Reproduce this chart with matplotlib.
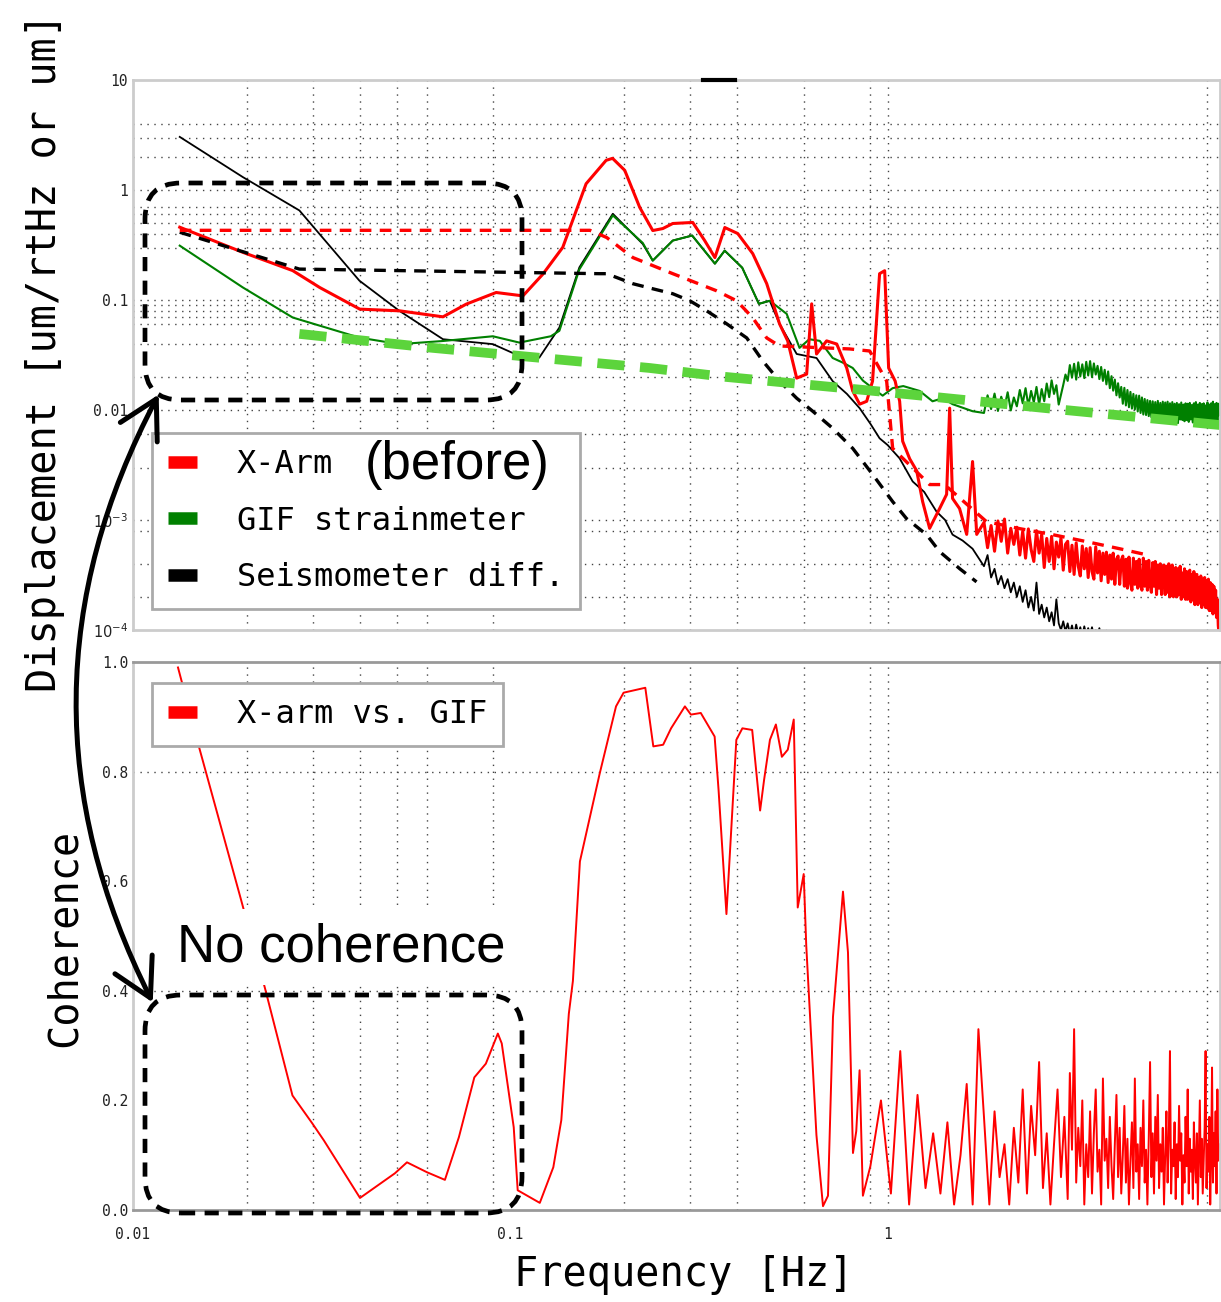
import matplotlib
matplotlib.use("Agg")
import numpy as np
import matplotlib.pyplot as plt
from matplotlib.lines import Line2D
from matplotlib.patches import FancyBboxPatch, FancyArrowPatch
from matplotlib.ticker import NullLocator

# ---------------- data: top panel (displacement) ----------------
xarm_f = [0.0133, 0.01956, 0.0265, 0.03124, 0.0399, 0.0509, 0.0663, 0.0764, 0.0917, 0.108,
          0.122, 0.1377, 0.1588, 0.1794, 0.1866, 0.201, 0.2203, 0.2385, 0.2535, 0.2695,
          0.3044, 0.3274, 0.3485, 0.3702, 0.4006, 0.439, 0.478, 0.517, 0.5433, 0.574,
          0.610, 0.629, 0.648, 0.689, 0.733, 0.779, 0.808, 0.843, 0.880, 0.912,
          0.952, 0.982, 1.006, 1.047, 1.076, 1.096, 1.144, 1.194, 1.238, 1.292,
          1.373, 1.433, 1.460, 1.486, 1.551, 1.620, 1.679, 1.722]
xarm_y = [0.459, 0.271, 0.185, 0.130, 0.0826, 0.0797, 0.0703, 0.0917, 0.117, 0.109,
          0.172, 0.301, 1.14, 1.86, 1.94, 1.51, 0.694, 0.428, 0.446, 0.496,
          0.507, 0.347, 0.243, 0.456, 0.402, 0.264, 0.141, 0.0607, 0.0425, 0.0195,
          0.0212, 0.0923, 0.0323, 0.0425, 0.0398, 0.0241, 0.0149, 0.0113, 0.0120, 0.0183,
          0.1735, 0.1846, 0.0241, 0.0183, 0.0120, 0.0052, 0.0036, 0.0028, 0.00147, 0.00084,
          0.00127, 0.00171, 0.0104, 0.00157, 0.00127, 0.00074, 0.0034, 0.00074]

# dense high-frequency grid (Hz)
f_hi = [1.80, 1.84, 1.88, 1.92, 1.96, 2.00, 2.04, 2.08, 2.12, 2.16,
        2.20, 2.24, 2.28, 2.32, 2.36, 2.40, 2.44, 2.48, 2.52, 2.56,
        2.60, 2.64, 2.68, 2.72, 2.76, 2.80, 2.84, 2.88, 2.92, 2.96,
        3.00, 3.04, 3.08, 3.12, 3.16, 3.20, 3.24, 3.28, 3.32, 3.36,
        3.40, 3.44, 3.48, 3.52, 3.56, 3.60, 3.64, 3.68, 3.72, 3.76,
        3.80, 3.84, 3.88, 3.92, 3.96, 4.00, 4.04, 4.08, 4.12, 4.16,
        4.20, 4.24, 4.28, 4.32, 4.36, 4.40, 4.44, 4.48, 4.52, 4.56,
        4.60, 4.64, 4.68, 4.72, 4.76, 4.80, 4.84, 4.88, 4.92, 4.96,
        5.00, 5.04, 5.08, 5.12, 5.16, 5.20, 5.24, 5.28, 5.32, 5.36,
        5.40, 5.44, 5.48, 5.52, 5.56, 5.60, 5.64, 5.68, 5.72, 5.76,
        5.80, 5.84, 5.88, 5.92, 5.96, 6.00, 6.04, 6.08, 6.12, 6.16,
        6.20, 6.24, 6.28, 6.32, 6.36, 6.40, 6.44, 6.48, 6.52, 6.56,
        6.60, 6.64, 6.68, 6.72, 6.76, 6.80, 6.84, 6.88, 6.92, 6.96,
        7.00, 7.04, 7.08, 7.12, 7.16, 7.20, 7.24, 7.28, 7.32, 7.36,
        7.40, 7.44, 7.48, 7.52, 7.56]
# X-arm noise floor, in units of 1e-4 um/rtHz
xarm_hi_e4 = [9.5, 5.6, 8.9, 5.2, 9.8, 6.4, 10.2, 5.0, 8.4, 6.0,
              8.6, 4.8, 7.9, 4.5, 8.3, 5.4, 4.2, 8.0, 5.0, 7.4,
              3.7, 6.8, 4.2, 7.1, 3.6, 6.3, 4.6, 6.9, 3.5, 6.0,
              6.4, 3.4, 5.9, 3.2, 6.2, 3.8, 3.1, 5.8, 3.6, 5.5,
              3.0, 5.6, 3.4, 2.9, 5.7, 3.3, 5.2, 2.8, 5.0, 3.2,
              5.1, 2.7, 4.8, 2.9, 5.0, 2.6, 4.4, 4.7, 2.6, 4.3,
              4.7, 2.5, 4.4, 2.4, 4.6, 2.7, 2.3, 4.5, 2.6, 4.2,
              2.4, 4.4, 2.6, 2.3, 4.5, 2.5, 4.2, 2.3, 4.3, 2.6,
              2.2, 4.1, 2.5, 4.2, 2.1, 3.9, 2.4, 4.0, 2.1, 3.7,
              3.9, 2.1, 3.8, 2.2, 4.0, 2.0, 3.5, 3.9, 2.0, 3.4,
              3.7, 2.0, 3.6, 2.1, 3.8, 1.9, 3.3, 2.0, 3.6, 1.9,
              3.4, 1.9, 3.3, 3.5, 1.8, 3.2, 1.9, 3.4, 1.7, 3.1,
              3.2, 1.7, 3.0, 1.8, 3.1, 1.6, 2.9, 1.7, 3.0, 1.6,
              2.8, 1.6, 2.9, 1.5, 2.7, 1.5, 2.6, 1.4, 2.5, 1.5,
              2.3, 1.3, 1.9, 1.1, 0.9]

gif_f = [0.0133, 0.01955, 0.0265, 0.0398, 0.0508, 0.0663, 0.0899, 0.1057, 0.128, 0.1349,
         0.1524, 0.1869, 0.2244, 0.2385, 0.2695, 0.3033, 0.3485, 0.3699, 0.4117, 0.4558,
         0.487, 0.54, 0.584, 0.62, 0.661, 0.715, 0.76, 0.808, 0.86, 0.912,
         0.97, 1.031, 1.10, 1.216, 1.315, 1.40, 1.486, 1.58, 1.679]
gif_y = [0.312, 0.130, 0.0693, 0.0455, 0.0397, 0.0424, 0.0468, 0.0410, 0.0468, 0.0525,
         0.19, 0.588, 0.33, 0.228, 0.347, 0.3855, 0.214, 0.281, 0.1966, 0.0923,
         0.0984, 0.0748, 0.0367, 0.044, 0.0425, 0.0297, 0.027, 0.0241, 0.0185, 0.0158,
         0.0135, 0.0158, 0.0165, 0.0149, 0.0120, 0.0128, 0.0113, 0.0105, 0.00975]
# GIF high-frequency part, in units of 1e-3
gif_hi_e3 = [9.4, 13.6, 10.2, 14.1, 9.8, 13.2, 10.6, 14.5, 9.9, 13.0,
             10.8, 15.2, 11.5, 15.8, 10.9, 14.9, 11.7, 16.2, 11.2, 15.5,
             12.0, 17.4, 13.1, 18.6, 14.0, 16.8, 11.2, 13.8, 16.9, 21.0,
             18.4, 25.6, 19.7, 26.3, 18.9, 27.1, 20.2, 26.0, 19.5, 27.4,
             20.6, 27.8, 19.9, 26.5, 21.0, 25.2, 19.1, 24.6, 18.4, 23.2,
             17.1, 22.4, 15.8, 20.3, 15.0, 18.9, 13.6, 17.5, 13.0, 16.2,
             11.4, 15.9, 11.0, 15.2, 10.6, 14.6, 10.3, 14.0, 10.1, 13.6,
             9.7, 13.5, 9.4, 13.0, 9.1, 12.6, 9.0, 12.3, 8.8, 12.1,
             8.6, 12.0, 8.7, 11.8, 8.4, 12.1, 8.5, 11.6, 8.3, 11.9,
             8.4, 11.7, 8.1, 11.9, 8.2, 11.5, 7.8, 11.8, 8.3, 11.4,
             8.0, 11.6, 7.6, 11.3, 8.2, 11.7, 8.1, 11.2, 7.9, 11.5,
             8.1, 11.4, 7.8, 11.6, 8.2, 11.1, 7.7, 11.5, 8.0, 11.8,
             8.3, 11.2, 7.9, 11.6, 8.1, 11.3, 7.6, 11.5, 8.2, 11.0,
             8.0, 11.7, 8.3, 11.2, 7.8, 11.5, 8.1, 11.9, 7.9, 11.3,
             8.2, 11.6, 8.0, 11.4, 9.0]

seis_f = [0.0133, 0.01955, 0.0276, 0.0398, 0.0508, 0.0663, 0.0899, 0.1057, 0.1193, 0.1349,
          0.1524, 0.1869, 0.2244, 0.2385, 0.2695, 0.3033, 0.3485, 0.3699, 0.4117, 0.4558,
          0.487, 0.517, 0.574, 0.648, 0.715, 0.78, 0.843, 0.90, 0.952, 1.0,
          1.076, 1.165, 1.25, 1.348, 1.42, 1.486, 1.58, 1.679]
seis_y = [3.04, 1.31, 0.652, 0.150, 0.0797, 0.044, 0.0397, 0.031, 0.0299, 0.0562,
          0.198, 0.608, 0.323, 0.228, 0.347, 0.3855, 0.214, 0.281, 0.1966, 0.0923,
          0.0984, 0.0607, 0.0323, 0.0297, 0.0183, 0.0140, 0.01038, 0.0075, 0.00553, 0.0048,
          0.00363, 0.00224, 0.0018, 0.00119, 0.0010, 0.000736, 0.00065, 0.000548]
# seismometer tail (1.80 - 3.96 Hz), in units of 1e-4
seis_hi_e4 = [3.8, 4.8, 3.0, 3.6, 2.6, 3.1, 2.4, 2.9, 2.2, 2.7,
              2.0, 2.5, 1.8, 2.3, 1.6, 2.0, 1.5, 2.7, 1.4, 1.7,
              1.3, 1.6, 1.2, 1.45, 1.1, 1.9, 1.15, 1.0, 1.2, 0.97,
              1.15, 0.93, 1.1, 0.9, 1.12, 0.92, 1.06, 0.88, 1.08, 0.9,
              1.04, 0.9, 1.06, 0.88, 1.0, 0.89, 1.04, 0.87, 0.98, 0.88,
              0.99, 0.86, 0.93, 0.84, 0.8]

xarm_model_f = [0.0133, 0.1626, 0.18, 0.2113, 0.2695, 0.352, 0.398, 0.439, 0.478, 0.517,
                0.793, 0.896, 0.994, 1.031, 1.292, 1.415, 1.828, 2.237, 2.735, 3.366, 4.12, 4.85]
xarm_model_y = [0.43, 0.43, 0.37, 0.243, 0.1735, 0.1213, 0.0984, 0.0689, 0.0452, 0.0382,
                0.0359, 0.0344, 0.0183, 0.00448, 0.0021, 0.0021, 0.000966, 0.000835, 0.000736,
                0.000636, 0.000548, 0.000483]

seis_model_f = [0.0133, 0.0276, 0.172, 0.18, 0.2113, 0.2385, 0.2695, 0.299, 0.3316, 0.3745,
                0.4232, 0.4667, 0.517, 0.574, 0.633, 0.715, 0.808, 0.912, 1.031, 1.122,
                1.268, 1.374, 1.552, 1.72]
seis_model_y = [0.413, 0.191, 0.1735, 0.1735, 0.1406, 0.1265, 0.114, 0.0984, 0.0796, 0.0607,
                0.0452, 0.0279, 0.0183, 0.0128, 0.00975, 0.00682, 0.00448, 0.0026, 0.00147, 0.00103,
                0.000736, 0.000515, 0.000361, 0.000274]

gif_model_f = [0.0276, 0.0623, 0.234, 0.366, 1.0, 2.7, 7.6]
gif_model_y = [0.0492, 0.0367, 0.0241, 0.0201, 0.0145, 0.0103, 0.0073]

# ---------------- data: bottom panel (coherence) ----------------
coh_f_lo = [0.01316, 0.01496, 0.01932, 0.02237, 0.02646, 0.02987, 0.03205, 0.03996, 0.04945, 0.05322,
            0.06009, 0.06709, 0.07307, 0.08028, 0.08612, 0.09266, 0.0949, 0.1021, 0.1046, 0.1197,
            0.1300, 0.1365, 0.1429, 0.1465, 0.1529, 0.1726, 0.1906, 0.1996, 0.2279, 0.2393,
            0.2541, 0.2667, 0.2902, 0.3010, 0.3197, 0.3479, 0.3564, 0.3739, 0.3972, 0.4121,
            0.4375, 0.4592, 0.4705, 0.4876, 0.5056, 0.5244, 0.5437, 0.5638, 0.5777, 0.5991,
            0.6085, 0.6475, 0.674, 0.6948, 0.7163, 0.7614, 0.785, 0.8093, 0.8257, 0.8426, 0.8598]
coh_lo = [0.99, 0.845, 0.567, 0.405, 0.209, 0.158, 0.127, 0.022, 0.067, 0.087,
          0.069, 0.055, 0.133, 0.242, 0.267, 0.322, 0.304, 0.151, 0.036, 0.013,
          0.078, 0.164, 0.358, 0.418, 0.636, 0.797, 0.919, 0.944, 0.953, 0.846,
          0.849, 0.879, 0.919, 0.904, 0.907, 0.864, 0.766, 0.540, 0.858, 0.879,
          0.876, 0.729, 0.785, 0.858, 0.886, 0.827, 0.840, 0.895, 0.552, 0.613,
          0.483, 0.137, 0.007, 0.026, 0.352, 0.581, 0.470, 0.104, 0.144, 0.255, 0.026]

coh_f_mid = [0.90, 0.96, 1.02, 1.08, 1.14, 1.20, 1.26, 1.32, 1.38, 1.44,
             1.50, 1.56, 1.62, 1.68, 1.74, 1.80, 1.86, 1.92, 1.98, 2.04,
             2.10, 2.16, 2.22, 2.28, 2.34, 2.40, 2.46, 2.52, 2.58, 2.64,
             2.70, 2.76, 2.82, 2.88, 2.94]
coh_mid = [0.08, 0.20, 0.03, 0.29, 0.01, 0.21, 0.04, 0.14, 0.03, 0.16,
           0.01, 0.10, 0.23, 0.01, 0.33, 0.17, 0.01, 0.18, 0.06, 0.12,
           0.01, 0.15, 0.05, 0.22, 0.03, 0.19, 0.10, 0.27, 0.04, 0.14,
           0.01, 0.12, 0.22, 0.06, 0.17]
# coherence on f_hi from 3.00 Hz upward
coh_hi = [0.02, 0.25, 0.11, 0.33, 0.05, 0.15, 0.08, 0.20, 0.01, 0.12,
          0.06, 0.18, 0.03, 0.14, 0.22, 0.07, 0.11, 0.01, 0.24, 0.09,
          0.13, 0.04, 0.17, 0.08, 0.02, 0.12, 0.21, 0.06, 0.15, 0.03,
          0.10, 0.19, 0.05, 0.13, 0.01, 0.09, 0.16, 0.04, 0.24, 0.07,
          0.12, 0.02, 0.15, 0.08, 0.20, 0.05, 0.11, 0.01, 0.13, 0.27,
          0.06, 0.14, 0.03, 0.17, 0.09, 0.21, 0.04, 0.12, 0.07, 0.15,
          0.01, 0.10, 0.18, 0.05, 0.13, 0.29, 0.03, 0.11, 0.08, 0.16,
          0.02, 0.12, 0.06, 0.19, 0.09, 0.14, 0.01, 0.10, 0.05, 0.17,
          0.08, 0.22, 0.03, 0.13, 0.07, 0.11, 0.02, 0.16, 0.09, 0.05,
          0.14, 0.01, 0.11, 0.20, 0.06, 0.13, 0.03, 0.09, 0.15, 0.29,
          0.04, 0.12, 0.07, 0.17, 0.01, 0.10, 0.26, 0.05, 0.14, 0.08,
          0.18, 0.03, 0.22, 0.09, 0.12]

# ---------------- axis / tick text ----------------
top_yticks = [1e-4, 1e-3, 1e-2, 1e-1, 1, 10]
top_yticklabels = ["$10^{-4}$", "$10^{-3}$", "0.01", "0.1", "1", "10"]
bot_yticks = [0.0, 0.2, 0.4, 0.6, 0.8, 1.0]
bot_yticklabels = ["0.0", "0.2", "0.4", "0.6", "0.8", "1.0"]
xticks = [0.01, 0.1, 1]
xticklabels = ["0.01", "0.1", "1"]
x_grid = [0.02, 0.03, 0.04, 0.05, 0.06, 0.09, 0.2, 0.3, 0.4, 0.6, 0.9, 1, 7]
top_y_grid = [4, 3, 2, 1, 0.7, 0.6, 0.5, 0.4, 0.3, 0.1, 0.09, 0.08, 0.07, 0.06, 0.04, 0.02,
              0.01, 0.006, 0.003, 0.001, 0.0008, 0.0004, 0.0002]
bot_y_grid = [0.4, 0.8]

legend_top = ["X-Arm", "GIF strainmeter", "Seismometer diff."]
legend_bot = ["X-arm vs. GIF"]

# ---------------- figure ----------------
W, H = 1221, 1302
fig = plt.figure(figsize=(W / 100, H / 100), dpi=100)
ax1 = fig.add_axes([133 / W, 1 - 630 / H, 1087 / W, 550 / H])
ax2 = fig.add_axes([133 / W, 1 - 1210 / H, 1087 / W, 548 / H])

mono = "DejaVu Sans Mono"
grid_kw = dict(color="#444444", lw=1.0, ls=(0, (1, 4)), zorder=0.5)

for ax in (ax1, ax2):
    ax.set_xscale("log")
    ax.set_xlim(0.01, 7.6)
    for v in x_grid:
        ax.axvline(v, **grid_kw)
    ax.xaxis.set_minor_locator(NullLocator())
    ax.tick_params(which="both", length=0, labelsize=10.5, colors="#222222")

ax1.set_yscale("log")
ax1.set_ylim(1e-4, 10)
for v in top_y_grid:
    ax1.axhline(v, **grid_kw)
ax1.yaxis.set_minor_locator(NullLocator())
ax1.set_yticks(top_yticks)
ax1.set_yticklabels(top_yticklabels, family=mono)
ax1.set_xticks(xticks)
ax1.tick_params(axis="x", labelbottom=False)

ax2.set_ylim(0, 1)
for v in bot_y_grid:
    ax2.axhline(v, **grid_kw)
ax2.set_yticks(bot_yticks)
ax2.set_yticklabels(bot_yticklabels, family=mono)
ax2.set_xticks(xticks)
ax2.set_xticklabels(xticklabels, family=mono)
ax2.tick_params(axis="x", pad=12)

for sp in ax1.spines.values():
    sp.set_color("#cccccc"); sp.set_linewidth(2)
for name, sp in ax2.spines.items():
    sp.set_color("#999999" if name in ("top", "bottom") else "#cccccc"); sp.set_linewidth(2)

xarm_hi = list(np.array(xarm_hi_e4) * 1e-4)
gif_hi = list(np.array(gif_hi_e3) * 1e-3)
seis_hi = list(np.array(seis_hi_e4) * 1e-4)

# top-panel curves
ax1.plot(seis_f + f_hi[:len(seis_hi)], seis_y + seis_hi, color="black", lw=1.3, zorder=2)
ax1.plot(gif_f + f_hi, gif_y + gif_hi, color="#008000", lw=1.5, zorder=2.1)
ax1.plot(xarm_f + f_hi, xarm_y + xarm_hi, color="#ff0000", lw=2.2, zorder=2.2)
ax1.plot(seis_model_f, seis_model_y, color="black", lw=2.4, ls=(0, (3.5, 2.5)), zorder=2.3)
ax1.plot(xarm_model_f, xarm_model_y, color="#ff0000", lw=2.4, ls=(0, (3.5, 2.5)), zorder=2.4)
ax1.plot(gif_model_f, gif_model_y, color="#5cd43c", lw=7, ls=(0, (2.8, 1.6)), zorder=2.5)

# bottom-panel curve
ax2.plot(coh_f_lo + coh_f_mid + f_hi[30:], coh_lo + coh_mid + coh_hi,
         color="#ff0000", lw=1.4, zorder=2)

# legends
leg_colors = ["#ff0000", "#008000", "black"]
leg_kw = dict(loc="upper left", borderaxespad=0, prop={"family": mono, "size": 23},
              handlelength=0.9, handletextpad=1.25, labelspacing=0.8, borderpad=0.5,
              fancybox=False, framealpha=1, edgecolor="#aaaaaa")
h_top = [Line2D([], [], color=c, lw=9, solid_capstyle="butt") for c in leg_colors]
leg1 = ax1.legend(h_top, legend_top, bbox_to_anchor=(0.0175, 0.358), **leg_kw)
leg1.get_frame().set_linewidth(2)
h_bot = [Line2D([], [], color="#ff0000", lw=9, solid_capstyle="butt")]
leg2 = ax2.legend(h_bot, legend_bot, bbox_to_anchor=(0.0175, 0.9617), **leg_kw)
leg2.get_frame().set_linewidth(2)

# axis labels
fig.text(45 / W, 1 - 352 / H, "Displacement [um/rtHz or um]", rotation=90, ha="center",
         va="center", family=mono, fontsize=29)
fig.text(65 / W, 1 - 938 / H, "Coherence", rotation=90, ha="center", va="center",
         family=mono, fontsize=29)
fig.text(684 / W, 1 - 1275 / H, "Frequency [Hz]", ha="center", va="center",
         family=mono, fontsize=29)

# annotations
fig.text(365 / W, 1 - 465 / H, "(before)", ha="left", va="center",
         family="Liberation Sans", fontsize=38, zorder=10)
fig.text(177 / W, 1 - 947 / H, "No coherence", ha="left", va="center",
         family="Liberation Sans", fontsize=38, zorder=10,
         bbox=dict(facecolor="white", edgecolor="none", boxstyle="square,pad=0.25"))

T = fig.dpi_scale_trans
box_kw = dict(boxstyle="round,pad=0,rounding_size=0.36", fill=False, edgecolor="black",
              lw=3.4, ls=(0, (3, 2)), transform=T, zorder=20)
fig.add_artist(FancyBboxPatch((1.45, (H - 400) / 100), 3.77, 2.17, **box_kw))
fig.add_artist(FancyBboxPatch((1.45, (H - 1213) / 100), 3.77, 2.18, **box_kw))

arrow = FancyArrowPatch((1.60, (H - 392) / 100), (1.54, (H - 1005) / 100),
                        connectionstyle="arc3,rad=0.26",
                        arrowstyle="<->,head_length=0.9,head_width=0.5",
                        mutation_scale=30, lw=3.6, color="black", transform=T, zorder=20)
fig.add_artist(arrow)

fig.add_artist(Line2D([7.03, 7.35], [(H - 80) / 100, (H - 80) / 100], transform=T,
                      color="black", lw=3, zorder=20))

fig.savefig("out.png", dpi=100)
